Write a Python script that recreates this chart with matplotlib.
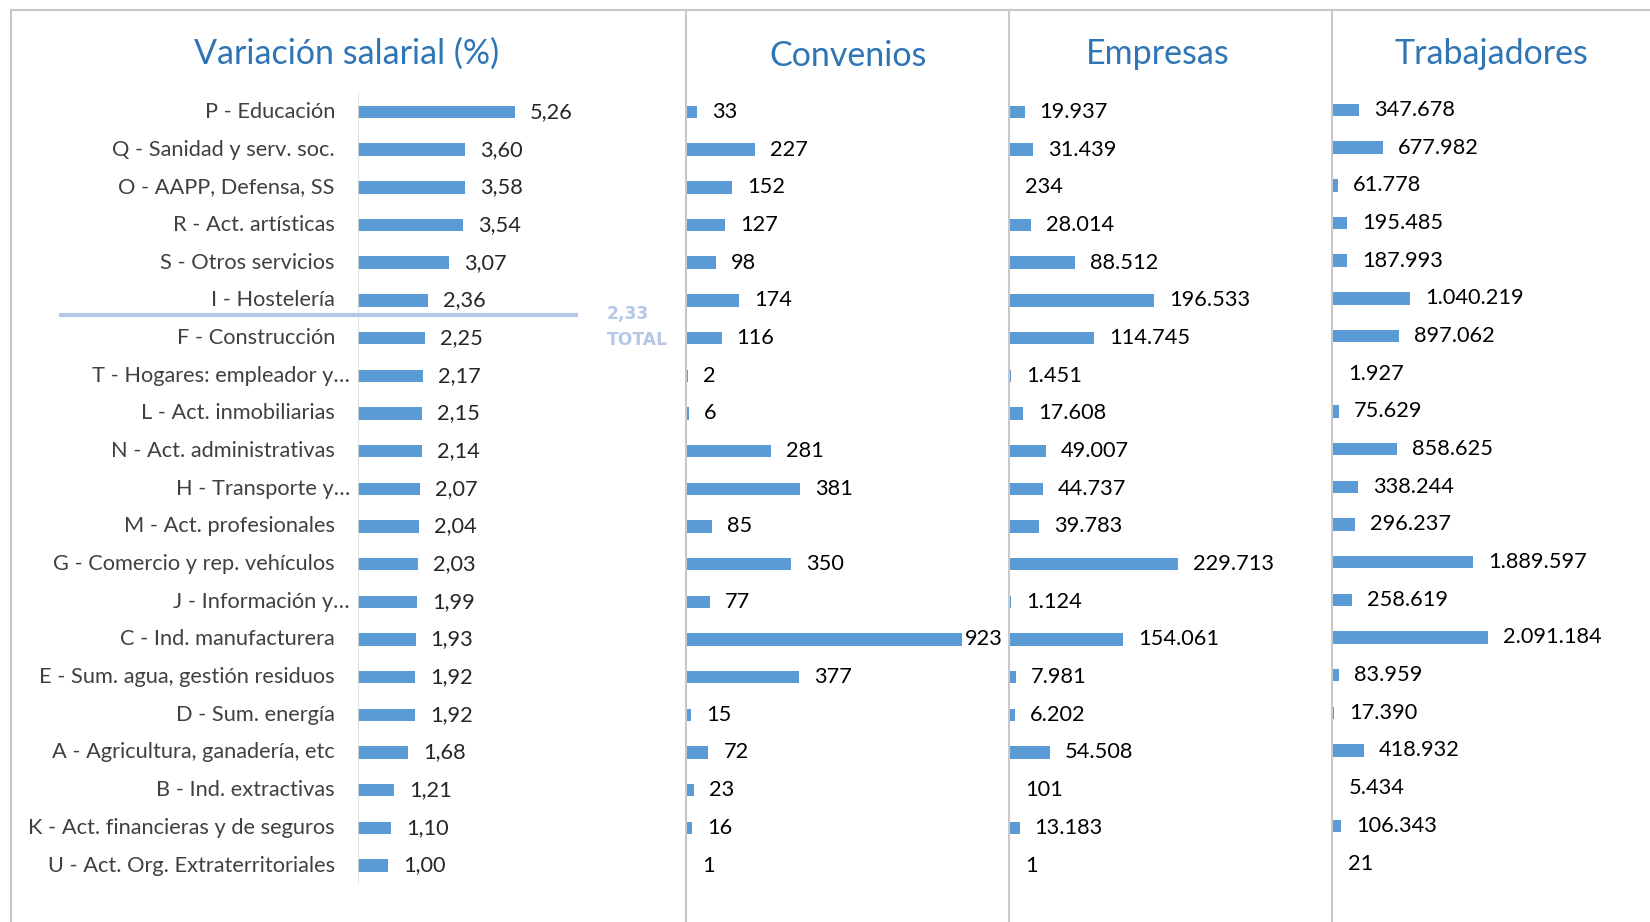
import matplotlib
matplotlib.use("Agg")
import matplotlib.pyplot as plt
from matplotlib.lines import Line2D
import matplotlib.transforms as mtransforms

plt.rcParams['font.family'] = ['Lato', 'DejaVu Sans']

sectores = [
    "P - Educación", "Q - Sanidad y serv. soc.", "O - AAPP, Defensa, SS",
    "R - Act. artísticas", "S - Otros servicios", "I - Hostelería",
    "F - Construcción", "T - Hogares: empleador y…", "L - Act. inmobiliarias",
    "N - Act. administrativas", "H - Transporte y…", "M - Act. profesionales",
    "G - Comercio y rep. vehículos", "J - Información y…", "C - Ind. manufacturera",
    "E - Sum. agua, gestión residuos", "D - Sum. energía", "A - Agricultura, ganadería, etc",
    "B - Ind. extractivas", "K - Act. financieras y de seguros", "U - Act. Org. Extraterritoriales",
]
variacion = [5.26, 3.60, 3.58, 3.54, 3.07, 2.36, 2.25, 2.17, 2.15, 2.14, 2.07,
             2.04, 2.03, 1.99, 1.93, 1.92, 1.92, 1.68, 1.21, 1.10, 1.00]
convenios = [33, 227, 152, 127, 98, 174, 116, 2, 6, 281, 381, 85, 350, 77,
             923, 377, 15, 72, 23, 16, 1]
empresas = [19937, 31439, 234, 28014, 88512, 196533, 114745, 1451, 17608,
            49007, 44737, 39783, 229713, 1124, 154061, 7981, 6202, 54508,
            101, 13183, 1]
trabajadores = [347678, 677982, 61778, 195485, 187993, 1040219, 897062, 1927,
                75629, 858625, 338244, 296237, 1889597, 258619, 2091184, 83959,
                17390, 418932, 5434, 106343, 21]
total_variacion = 2.33
titulos = ["Variación salarial (%)", "Convenios", "Empresas", "Trabajadores"]

W, H = 1650, 922
fig = plt.figure(figsize=(W / 100, H / 100), dpi=100)

BAR = "#5b9bd5"
TITLE = "#2e75b6"
GRID = "#c8c8c8"
TXT = "#262626"
LBL = "#404040"
TOTC = "#b4c7e7"
FS = 15.7

n = len(sectores)
row0, row_last = 112.0, 865.5
step = (row_last - row0) / (n - 1)
top_px = row0 - step / 2
bot_px = row_last + step / 2


def fmt_es(v):
    return f"{v:,}".replace(",", ".")


def make_ax(left_px, width_px, xmax, dy=0.0):
    ax = fig.add_axes([left_px / W, 1 - (bot_px + dy) / H, width_px / W, (bot_px - top_px) / H])
    ax.set_xlim(0, xmax)
    ax.set_ylim(n - 0.5, -0.5)
    ax.set_xticks([])
    ax.set_yticks([])
    for s in ax.spines.values():
        s.set_visible(False)
    ax.patch.set_alpha(0)
    return ax


ys = list(range(n))

# Panel 1: variación salarial
ax1 = make_ax(358, 300, 300 / 29.8)
ax1.barh(ys, variacion, height=0.33, color=BAR)
ax1.axvline(0, color="#d9d9d9", lw=1.2)
off = mtransforms.offset_copy(ax1.transData, fig=fig, x=15, y=0, units='dots')
for y, v in zip(ys, variacion):
    ax1.text(v, y, f"{v:.2f}".replace(".", ","), transform=off, ha="left", va="center",
             fontsize=FS, color=TXT)
for y, lab in zip(ys, sectores):
    xoff = -8 if lab.endswith("…") else -23
    t = mtransforms.offset_copy(ax1.transData, fig=fig, x=xoff, y=0, units='dots')
    ax1.text(0, y, lab, transform=t, ha="right", va="center", fontsize=FS, color=LBL)

# total line
idx = max(i for i, v in enumerate(variacion) if v > total_variacion)
ytot = idx + 0.4
btr = mtransforms.blended_transform_factory(fig.transFigure, ax1.transData)
ax1.add_line(Line2D([61 / W, 576 / W], [ytot, ytot], transform=btr, color=TOTC, lw=3,
                    clip_on=False))
ax1.text(607 / W, ytot - 0.03, f"{total_variacion:.2f}".replace(".", ","), transform=btr,
         ha="left", va="center", fontsize=12.3, color=TOTC, fontweight="bold",
         family=["DejaVu Sans"])
ax1.text(607 / W, ytot + 0.65, "TOTAL", transform=btr, ha="left", va="center",
         fontsize=12.3, color=TOTC, fontweight="bold", family=["DejaVu Sans"])


def count_panel(left_px, width_px, scale_val, scale_px, values, dy=0.0):
    xmax = scale_val * width_px / scale_px
    ax = make_ax(left_px, width_px, xmax, dy)
    ax.barh(ys, values, height=0.33, color=BAR)
    vmax = max(values)
    for y, v in zip(ys, values):
        gap = 15
        if v == vmax and v * scale_px / scale_val + 15 + 40 > width_px:
            gap = 3
        t = mtransforms.offset_copy(ax.transData, fig=fig, x=gap, y=0, units='dots')
        ax.text(v, y, fmt_es(v), transform=t, ha="left", va="center", fontsize=FS,
                color="black")
    return ax


count_panel(687, 320, 923, 274.7, convenios)
count_panel(1010, 320, 229713, 168.4, empresas)
count_panel(1333, 317, 2091184, 154.7, trabajadores, dy=-2)

# titles
for title, cx, cy in zip(titulos, [347, 848, 1158, 1491], [54, 56, 54, 54]):
    fig.text(cx / W, 1 - cy / H, title, ha="center", va="center", fontsize=24.5, color=TITLE)

# frame lines
fig.add_artist(Line2D([10.5 / W, 1], [1 - 10 / H, 1 - 10 / H], transform=fig.transFigure,
                      color=GRID, lw=1.5))
for x in [10.5, 686, 1009, 1332]:
    fig.add_artist(Line2D([x / W, x / W], [0, 1 - 10 / H], transform=fig.transFigure,
                          color=GRID, lw=1.5))

fig.savefig("out.png", dpi=100, facecolor="white")
